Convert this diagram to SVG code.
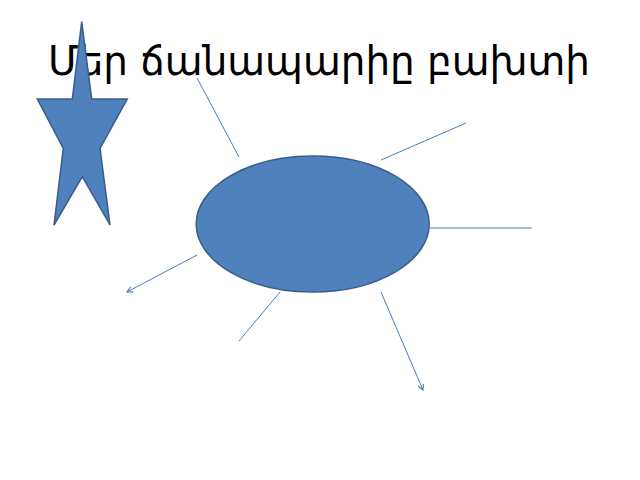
<svg xmlns="http://www.w3.org/2000/svg" width="640" height="480" viewBox="0 0 640 480">
<defs>
<style>
.title{font-family:"DejaVu Sans","Noto Sans",sans-serif;font-size:40px;fill:#000}
.conn{stroke:#4A7EBB;stroke-width:1;fill:none}
.shape{fill:#4F81BD;stroke:#385D8A;stroke-width:1.5}
</style>
<marker id="arr" viewBox="0 0 10 10" refX="9" refY="5" markerWidth="7" markerHeight="7" orient="auto" markerUnits="userSpaceOnUse">
<path d="M1,1 L9,5 L1,9" fill="none" stroke="#4A7EBB" stroke-width="1.6"/>
</marker>
</defs>
<rect width="640" height="480" fill="#fff"/>
<text class="title" x="48" y="75" textLength="542" lengthAdjust="spacingAndGlyphs">Մեր ճանապարիը բախտի</text>
<g id="connectors">
<line class="conn" x1="197" y1="78" x2="239" y2="157"/>
<line class="conn" x1="381" y1="160" x2="466" y2="123"/>
<line class="conn" x1="429" y1="228" x2="532" y2="228"/>
<line class="conn" x1="197" y1="255" x2="127" y2="292" marker-end="url(#arr)"/>
<line class="conn" x1="280" y1="292" x2="239" y2="341"/>
<line class="conn" x1="381" y1="292" x2="423" y2="390" marker-end="url(#arr)"/>
</g>
<g id="ellipse">
<ellipse class="shape" cx="312.7" cy="224" rx="116.5" ry="68"/>
</g>
<g id="star">
<polygon class="shape" points="81.7,21.7 91.7,99 127.3,99 100,148.3 110,225 82.3,176.7 54,225 63.3,148.3 37.3,99 72.3,99"/>
</g>
</svg>
